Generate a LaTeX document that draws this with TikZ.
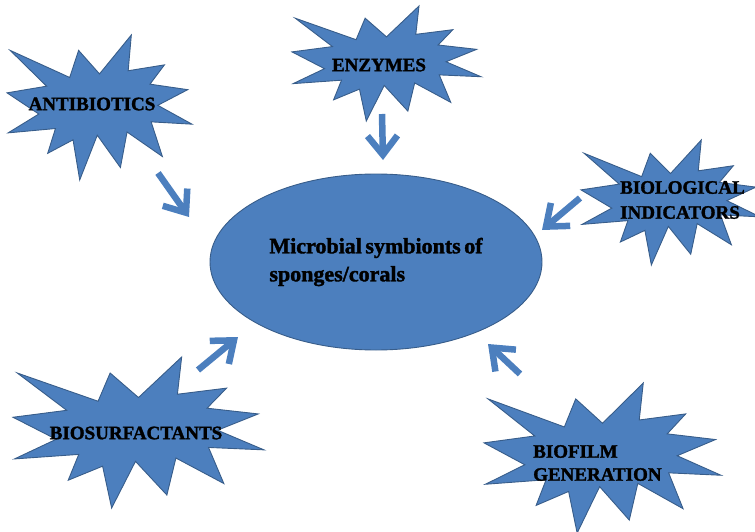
\documentclass[tikz,border=0pt]{standalone}
\usepackage{fontspec}
\setmainfont{Liberation Serif}[BoldFeatures={FakeBold=1.6}]
\usetikzlibrary{arrows.meta,shapes.geometric}
\definecolor{sealblue}{RGB}{76,127,190}
\definecolor{sealedge}{RGB}{56,93,138}
\tikzset{
  sealshape/.style={fill=sealblue,draw=sealedge,line width=0.9pt,line join=miter},
  seal/.pic={\path[sealshape] (0.5,0.2685) -- (0.672,0) -- (0.655,0.2465) -- (0.851,0.206)
     -- (0.773,0.339) -- (0.977,0.377) -- (0.815,0.485) -- (1,0.615) -- (0.779,0.599)
     -- (0.840,0.838) -- (0.649,0.669) -- (0.613,0.914) -- (0.488,0.691) -- (0.393,1)
     -- (0.357,0.723) -- (0.220,0.816) -- (0.262,0.645) -- (0.006,0.675) -- (0.172,0.545)
     -- (0,0.399) -- (0.214,0.353) -- (0.017,0.106) -- (0.339,0.293) -- (0.387,0.106) -- cycle;},
  lbl/.style={font=\bfseries\fontsize{19}{24}\selectfont,text=black,inner sep=0pt,align=left},
  feed/.style={draw=sealblue,line width=6.5pt,-{Straight Barb[length=19pt,width=30pt]}},
  core/.style={ellipse,fill=sealblue,draw=sealedge,line width=0.9pt,minimum width=332pt,
     minimum height=176pt,inner sep=0pt,align=left,
     font=\bfseries\fontsize{22}{28}\selectfont}
}
\begin{document}
\begin{tikzpicture}[x=1pt,y=-1pt]
\useasboundingbox (0,0) rectangle (755,532);
% starbursts
\pic[shift={(7,35)},xscale=185,yscale=145] {seal};
\pic[shift={(292,6)},xscale=189,yscale=115] {seal};
\pic[shift={(581,140)},xscale=179,yscale=125] {seal};
\pic[shift={(13,357)},xscale=251,yscale=151] {seal};
\pic[shift={(484,383)},xscale=237,yscale=150] {seal};
% centre
\node[core] (centre) at (376,262) {Microbial\hspace{-2pt} symbionts\hspace{-2pt} of\\sponges/corals};
% labels
\node[lbl] (antib) at (92,104) {ANTIBIOTICS};
\node[lbl] (enz) at (379,65) {ENZYMES};
\node[lbl,anchor=west,font=\bfseries\fontsize{19}{25}\selectfont] (bioind) at (620,200) {BIOLOGICAL\\INDICATORS};
\node[lbl] (biosurf) at (136,433) {BIOSURFACTANTS};
\node[lbl,anchor=west,font=\bfseries\fontsize{19}{23}\selectfont] (biofilm) at (533,463) {BIOFILM\\GENERATION};
% arrow ends
\coordinate (t1) at (158,173); \coordinate (h1) at (189,217);
\coordinate (t2) at (382,114); \coordinate (h2) at (383,160);
\coordinate (t3) at (580,198); \coordinate (h3) at (542,230);
\coordinate (t4) at (198,370); \coordinate (h4) at (238,337);
\coordinate (t5) at (520,374); \coordinate (h5) at (488,344);
\draw[feed] (t1) -- (h1);
\draw[feed] (t2) -- (h2);
\draw[feed] (t3) -- (h3);
\draw[feed] (t4) -- (h4);
\draw[feed] (t5) -- (h5);
\end{tikzpicture}
\end{document}
